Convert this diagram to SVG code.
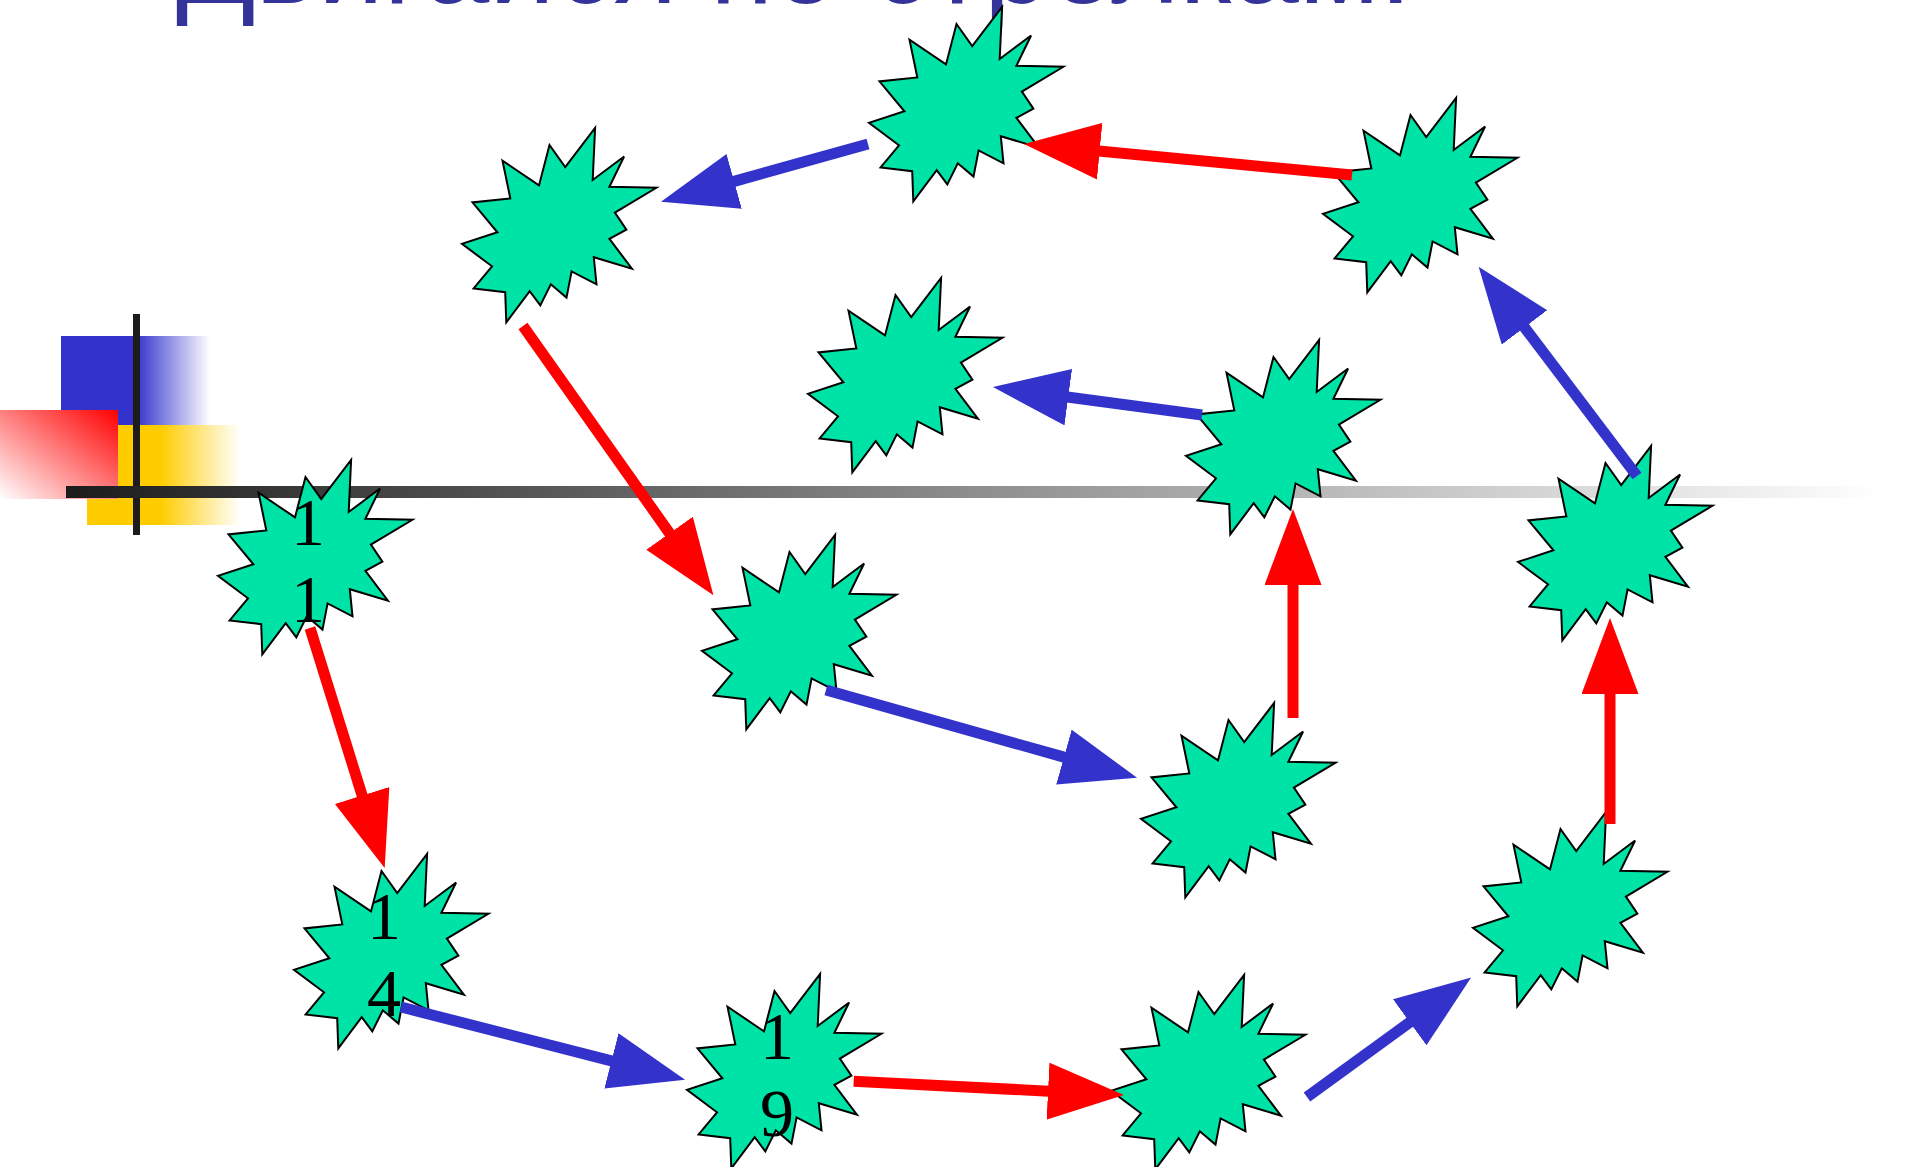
<svg xmlns="http://www.w3.org/2000/svg" xmlns:xlink="http://www.w3.org/1999/xlink" width="1915" height="1167" viewBox="0 0 1915 1167">
<style>
.star{fill:#00E3A6;stroke:#000000;stroke-width:2;stroke-linejoin:miter}
.lbl{font-family:"Liberation Serif","Times New Roman",serif;font-size:68px;fill:#000000;text-anchor:middle}
.title{font-family:"Liberation Sans",Arial,sans-serif;font-size:117.5px;fill:#333399}
.red{stroke:#FF0000;stroke-width:11;fill:none;marker-end:url(#hr)}
.blue{stroke:#3333CC;stroke-width:11;fill:none;marker-end:url(#hb)}
</style>
<defs>
<linearGradient id="gBlue" x1="0" y1="0" x2="1" y2="0">
<stop offset="0" stop-color="#3333CC"/><stop offset="0.5" stop-color="#3333CC"/><stop offset="1" stop-color="#FFFFFF"/>
</linearGradient>
<linearGradient id="gYellow" x1="0" y1="0" x2="1" y2="0">
<stop offset="0" stop-color="#FFCC00"/><stop offset="0.48" stop-color="#FFCC00"/><stop offset="1" stop-color="#FFFFFF"/>
</linearGradient>
<linearGradient id="gRed" x1="1" y1="0" x2="0" y2="1">
<stop offset="0" stop-color="#FF0000"/><stop offset="1" stop-color="#FFFFFF"/>
</linearGradient>
<linearGradient id="gLine" gradientUnits="userSpaceOnUse" x1="66" y1="0" x2="1880" y2="0">
<stop offset="0" stop-color="#1C1C1C"/><stop offset="1" stop-color="#FFFFFF"/>
</linearGradient>
<path id="star" class="star" d="M103.2,39.1 L133.1,0 L130.7,52 L162.1,28.5 L147.4,58.8 L194.4,59.8 L152.9,84.6 L164.4,101.6 L147.4,110.8 L169.9,140.7 L131.8,129.2 L134.5,156.3 L109.6,143.4 L104.5,169.6 L88.8,156.3 L78.3,177.4 L67.7,163.1 L44.3,194.4 L43.2,164.2 L11.6,160.4 L30,138.3 L0,115.9 L35.4,104.3 L10.5,74.4 L48.3,70.4 L40.5,32.6 L77,57.4 L87.5,17 Z"/>
<marker id="hr" markerUnits="userSpaceOnUse" viewBox="0 0 78 58" markerWidth="78" markerHeight="58" refX="1" refY="28.5" orient="auto">
<path d="M0,0 L76,28.5 L0,57 Z" fill="#FF0000"/>
</marker>
<marker id="hb" markerUnits="userSpaceOnUse" viewBox="0 0 78 58" markerWidth="78" markerHeight="58" refX="1" refY="28.5" orient="auto">
<path d="M0,0 L76,28.5 L0,57 Z" fill="#3333CC"/>
</marker>
</defs>
<rect width="1915" height="1167" fill="#FFFFFF"/>
<text id="title" class="title" x="176" y="3">Двигайся по стрелкам!</text>
<g id="decoration">
<rect x="61" y="336" width="149" height="89" fill="url(#gBlue)"/>
<rect x="87" y="425" width="153" height="100" fill="url(#gYellow)"/>
<rect x="0" y="410" width="118" height="89" fill="url(#gRed)"/>
<rect x="133" y="314" width="7" height="221" fill="#1C1C1C"/>
<rect x="66" y="486" width="1814" height="12" fill="url(#gLine)"/>
</g>
<g id="nodes">
<g id="n11" transform="translate(218,460)"><use xlink:href="#star"/><text class="lbl" x="90" y="85">1</text><text class="lbl" x="90" y="162">1</text></g>
<g id="n14" transform="translate(294,854)"><use xlink:href="#star"/><text class="lbl" x="90" y="85">1</text><text class="lbl" x="90" y="162">4</text></g>
<g id="n19" transform="translate(687,974)"><use xlink:href="#star"/><text class="lbl" x="90" y="85">1</text><text class="lbl" x="90" y="162">9</text></g>
<g id="s4" transform="translate(1111,975)"><use xlink:href="#star"/></g>
<g id="s5" transform="translate(1473,812)"><use xlink:href="#star"/></g>
<g id="s6" transform="translate(1518,446)"><use xlink:href="#star"/></g>
<g id="s7" transform="translate(1323,98)"><use xlink:href="#star"/></g>
<g id="s8" transform="translate(869,7)"><use xlink:href="#star"/></g>
<g id="s9" transform="translate(462,128)"><use xlink:href="#star"/></g>
<g id="s10" transform="translate(702,535)"><use xlink:href="#star"/></g>
<g id="s11" transform="translate(1141,703)"><use xlink:href="#star"/></g>
<g id="s12" transform="translate(1186,340)"><use xlink:href="#star"/></g>
<g id="s13" transform="translate(808,278)"><use xlink:href="#star"/></g>
</g>
<g id="connectors">
<line class="red" x1="310" y1="628" x2="362.4" y2="796.4"/>
<line class="blue" x1="401" y1="1007" x2="612.4" y2="1061.1"/>
<line class="red" x1="853.7" y1="1081.3" x2="1049" y2="1091.2"/>
<line class="blue" x1="1307" y1="1097" x2="1410.5" y2="1021.7"/>
<line class="red" x1="1610" y1="824" x2="1610" y2="693"/>
<line class="blue" x1="1637" y1="476" x2="1523.9" y2="326.6"/>
<line class="red" x1="1352" y1="175" x2="1098.7" y2="151.1"/>
<line class="blue" x1="868" y1="144" x2="733.2" y2="181.6"/>
<line class="red" x1="523" y1="326" x2="670.1" y2="534"/>
<line class="blue" x1="826" y1="690" x2="1064.9" y2="757.4"/>
<line class="red" x1="1293" y1="718" x2="1293" y2="584"/>
<line class="blue" x1="1202" y1="415" x2="1067.3" y2="397"/>
</g>
</svg>
